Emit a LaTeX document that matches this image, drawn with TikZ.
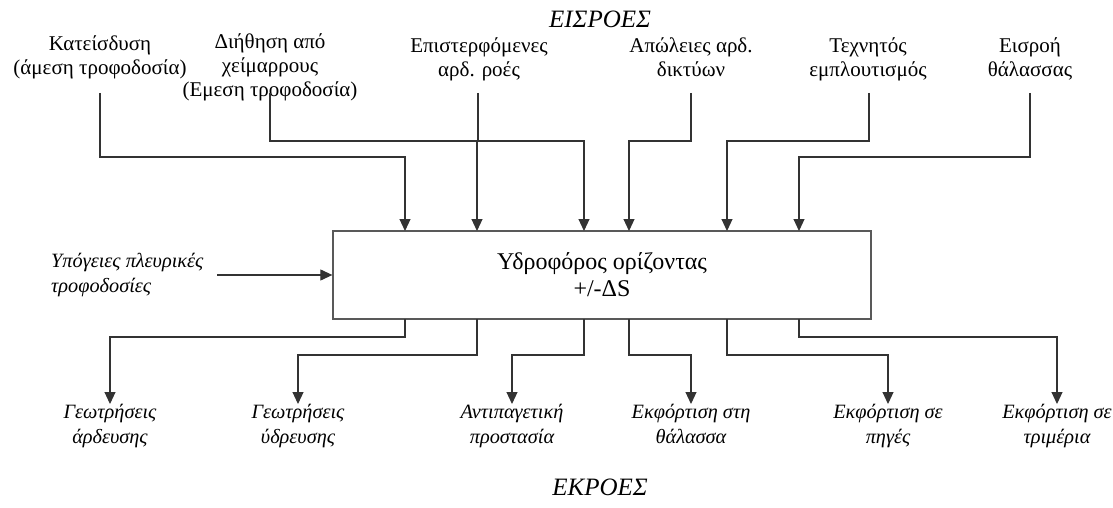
\documentclass[tikz,border=0pt]{standalone}
\usepackage{fontspec}
\setmainfont{Liberation Serif}
\usetikzlibrary{arrows.meta}
\begin{document}
\begin{tikzpicture}[x=1pt,y=-1pt,
  lbl/.style={inner sep=0pt,align=center,font=\fontsize{21}{24}\selectfont},
  olbl/.style={inner sep=0pt,align=center,font=\fontsize{20.3}{25}\selectfont\itshape},
  ttl/.style={inner sep=0pt,font=\fontsize{25}{28}\selectfont\itshape},
  conn/.style={draw=black!80,line width=1.1pt},
  arr/.style={conn,-{Triangle[length=12pt,width=11pt]}},
  boxstyle/.style={draw=black!65,line width=1.3pt,minimum width=538pt,minimum height=88pt,align=center,inner sep=0pt,font=\fontsize{24}{27}\selectfont}]
\useasboundingbox (0,0) rectangle (1113,508);
% titles
\node[ttl] (tin) at (600,19) {ΕΙΣΡΟΕΣ};
\node[ttl] (tout) at (600,487) {ΕΚΡΟΕΣ};
% main box
\node[boxstyle] (box) at (602,275) {Υδροφόρος ορίζοντας\\+/-ΔS};
% input labels
\node[lbl,anchor=north] (in1) at (100,35) {Κατείσδυση\\(άμεση τροφοδοσία)};
\node[lbl,anchor=north] (in2) at (270,33) {Διήθηση από\\χείμαρρους\\(Εμεση τροφοδοσία)};
\node[lbl,anchor=north] (in3) at (479,37) {Επιστερφόμενες\\αρδ. ροές};
\node[lbl,anchor=north] (in4) at (691,37) {Απώλειες αρδ.\\δικτύων};
\node[lbl,anchor=north] (in5) at (868,37) {Τεχνητός\\εμπλουτισμός};
\node[lbl,anchor=north] (in6) at (1030,37) {Εισροή\\θάλασσας};
\node[olbl,anchor=west,align=left] (lat) at (51,275) {Υπόγειες πλευρικές\\τροφοδοσίες};
% output labels
\node[olbl,anchor=north] (out1) at (110,404) {Γεωτρήσεις\\άρδευσης};
\node[olbl,anchor=north] (out2) at (298,404) {Γεωτρήσεις\\ύδρευσης};
\node[olbl,anchor=north] (out3) at (512,404) {Αντιπαγετική\\προστασία};
\node[olbl,anchor=north] (out4) at (691,404) {Εκφόρτιση στη\\θάλασσα};
\node[olbl,anchor=north] (out5) at (888,404) {Εκφόρτιση σε\\πηγές};
\node[olbl,anchor=north] (out6) at (1057,404) {Εκφόρτιση σε\\τριμέρια};
% attachment points on the box
\coordinate (a1) at (405,231); \coordinate (a2) at (477,231);
\coordinate (a3) at (584,231); \coordinate (a4) at (629,231);
\coordinate (a5) at (727,231); \coordinate (a6) at (799,231);
\coordinate (b1) at (405,319); \coordinate (b2) at (477,319);
\coordinate (b3) at (584,319); \coordinate (b4) at (629,319);
\coordinate (b5) at (727,319); \coordinate (b6) at (799,319);
% inputs
\draw[arr] (in1.south |- 0,93) |- (a1 |- 0,157) -- (a1);
\draw[arr] (in2.south |- 0,93) |- (a2 |- 0,141) -- (a2);
\draw[arr] (478,93) |- (a3 |- 0,141) -- (a3);
\draw[arr] (in4.south |- 0,93) |- (a4 |- 0,141) -- (a4);
\draw[arr] (869,93) |- (a5 |- 0,141) -- (a5);
\draw[arr] (in6.south |- 0,93) |- (a6 |- 0,157) -- (a6);
\draw[arr] (217,275) -- (box.west);
% outputs
\draw[arr] (b1) |- (out1.north |- 0,337) -- (out1.north);
\draw[arr] (b2) |- (out2.north |- 0,355) -- (out2.north);
\draw[arr] (b3) |- (out3.north |- 0,355) -- (out3.north);
\draw[arr] (b4) |- (out4.north |- 0,355) -- (out4.north);
\draw[arr] (b5) |- (out5.north |- 0,355) -- (out5.north);
\draw[arr] (b6) |- (out6.north |- 0,337) -- (out6.north);
\end{tikzpicture}
\end{document}
